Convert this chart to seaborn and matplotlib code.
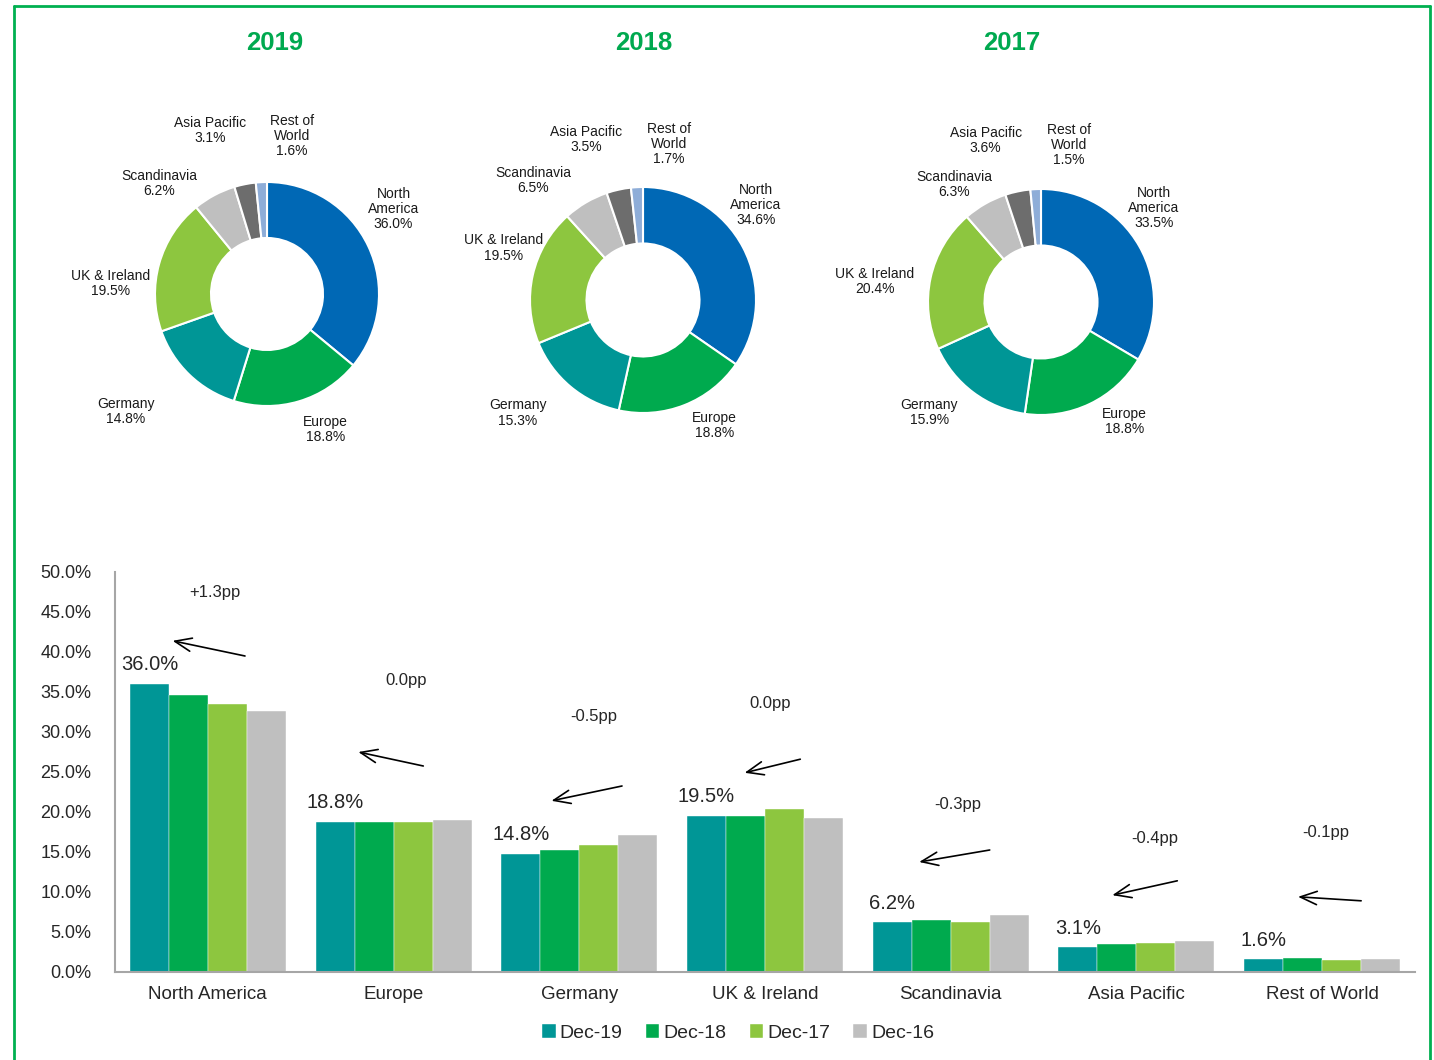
import numpy as np
import pandas as pd
import matplotlib
matplotlib.use("Agg")
import matplotlib.pyplot as plt
import seaborn as sns

# regional revenue share (%)
regions = ["North America", "Europe", "Germany", "UK & Ireland",
           "Scandinavia", "Asia Pacific", "Rest of World"]
donut_labels = ["North\nAmerica", "Europe", "Germany", "UK & Ireland",
                "Scandinavia", "Asia Pacific", "Rest of\nWorld"]
share_2019 = [36.0, 18.8, 14.8, 19.5, 6.2, 3.1, 1.6]
share_2018 = [34.6, 18.8, 15.3, 19.5, 6.5, 3.5, 1.7]
share_2017 = [33.5, 18.8, 15.9, 20.4, 6.3, 3.6, 1.5]
share_2016 = [32.6, 19.0, 17.1, 19.2, 7.1, 3.9, 1.6]
periods = ["Dec-19", "Dec-18", "Dec-17", "Dec-16"]
change_labels = ["+1.3pp", "0.0pp", "-0.5pp", "0.0pp", "-0.3pp", "-0.4pp", "-0.1pp"]

donut_colors = ["#0068B5", "#00AA4E", "#009696", "#8DC63F", "#BFBFBF", "#6D6D6D", "#8EADD8"]
bar_colors = ["#009696", "#00AA4E", "#8DC63F", "#BFBFBF"]
title_green = "#00A94F"

sns.set_theme(style="white")
plt.rcParams["font.family"] = ["Liberation Sans", "DejaVu Sans"]

W, H = 1434, 1060
fig = plt.figure(figsize=(W / 100, H / 100), dpi=100)

# outer green frame
fig.add_artist(plt.Line2D([14 / W, 14 / W], [0, 1 - 6 / H], color="#00B050", lw=2))
fig.add_artist(plt.Line2D([14 / W, 1430 / W], [1 - 6 / H, 1 - 6 / H], color="#00B050", lw=2))
fig.add_artist(plt.Line2D([1430 / W, 1430 / W], [0, 1 - 6 / H], color="#00B050", lw=2))

# donuts: (title, values, centre px, radius px, title x px, label offsets in radius units)
donuts = [
    ("2019", share_2019, (267, 294), 112, 275,
     [(1.13, 0.76), (0.52, -1.21), (-1.26, -1.05), (-1.40, 0.09),
      (-0.96, 0.99), (-0.51, 1.46), (0.22, 1.41)]),
    ("2018", share_2018, (643, 300), 113, 644,
     [(1.00, 0.84), (0.63, -1.11), (-1.11, -1.00), (-1.23, 0.46),
      (-0.97, 1.06), (-0.50, 1.42), (0.23, 1.38)]),
    ("2017", share_2017, (1041, 302), 113, 1012,
     [(1.00, 0.83), (0.74, -1.06), (-0.99, -0.98), (-1.47, 0.18),
      (-0.77, 1.04), (-0.49, 1.43), (0.25, 1.39)]),
]

L = 1.7
for title, vals, (cx, cy), r, tx, offs in donuts:
    size = 2 * L * r
    ax = fig.add_axes([(cx - size / 2) / W, (H - cy - size / 2) / H, size / W, size / H])
    ax.pie(vals, colors=donut_colors, startangle=90, counterclock=False,
           wedgeprops=dict(width=0.5, edgecolor="white", linewidth=1.5))
    ax.set_xlim(-L, L)
    ax.set_ylim(-L, L)
    ax.set_aspect("equal")
    ax.axis("off")
    for lab, v, (ox, oy) in zip(donut_labels, vals, offs):
        ax.text(ox, oy, f"{lab}\n{v:.1f}%", ha="center", va="center",
                fontsize=10, color="#1a1a1a", linespacing=1.1)
    fig.text(tx / W, 1 - 43 / H, title, ha="center", va="center",
             fontsize=18.5, fontweight="bold", color=title_green)

# grouped bar chart
df = pd.DataFrame({
    "region": regions * 4,
    "period": np.repeat(periods, len(regions)),
    "share": share_2019 + share_2018 + share_2017 + share_2016,
})

axb = fig.add_axes([115 / W, 1 - 972 / H, (1415 - 115) / W, (972 - 572) / H])
sns.barplot(data=df, x="region", y="share", hue="period", palette=bar_colors,
            width=0.84, saturation=1, edgecolor="white", linewidth=0.3, ax=axb)
axb.set_ylim(0, 50)
axb.set_xlim(-0.5, len(regions) - 0.5)
axb.set_yticks(np.arange(0, 51, 5))
axb.set_yticklabels([f"{t:.1f}%" for t in np.arange(0, 51, 5)], fontsize=13)
axb.tick_params(axis="x", labelsize=13.5, pad=10, length=0)
axb.tick_params(axis="y", pad=17, length=0)
axb.set_xlabel("")
axb.set_ylabel("")
for s in ["top", "right"]:
    axb.spines[s].set_visible(False)
for s in ["left", "bottom"]:
    axb.spines[s].set_color("#A6A6A6")
    axb.spines[s].set_linewidth(1.5)

# value labels above the Dec-19 bar
bw = 0.84 / 4
for i, v in enumerate(share_2019):
    axb.text(i - 1.5 * bw, v + 2.4, f"{v:.1f}%", ha="center", va="center", fontsize=14.5)

# change annotations: text pos, arrow tail, arrow head (data coords)
ann_layout = [
    ((0.04, 47.5), (0.20, 39.5), (-0.19, 41.4)),
    ((1.07, 36.5), (1.16, 25.75), (0.81, 27.5)),
    ((2.08, 31.9), (2.23, 23.25), (1.85, 21.4)),
    ((3.03, 33.6), (3.19, 26.6), (2.89, 24.9)),
    ((4.04, 20.9), (4.21, 15.25), (3.83, 13.75)),
    ((5.10, 16.75), (5.22, 11.4), (4.87, 9.6)),
    ((6.02, 17.5), (6.21, 8.9), (5.87, 9.4)),
]
for lab, (tp, tail, head) in zip(change_labels, ann_layout):
    axb.text(tp[0], tp[1], lab, ha="center", va="center", fontsize=12)
    axb.annotate("", xy=head, xytext=tail,
                 arrowprops=dict(arrowstyle="->,head_length=1.0,head_width=0.4",
                                 color="black", lw=1.2, shrinkA=0, shrinkB=0))

axb.legend(loc="center", bbox_to_anchor=(738 / W, 1 - 1033 / H),
           bbox_transform=fig.transFigure, ncol=4, frameon=False, fontsize=14,
           handlelength=0.7, handleheight=0.7, handletextpad=0.2, columnspacing=1.2)

fig.savefig("out.png", dpi=100)
